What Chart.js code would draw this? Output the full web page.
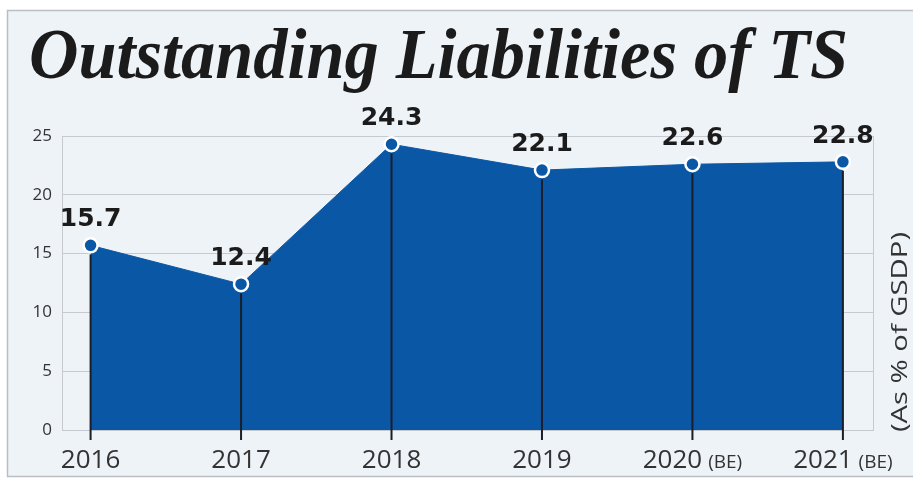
<!DOCTYPE html>
<html>
<head>
<meta charset="utf-8">
<title>Outstanding Liabilities of TS</title>
<script src="https://cdn.jsdelivr.net/npm/chart.js@4.4.1/dist/chart.umd.min.js"></script>
<style>
  html, body { margin: 0; padding: 0; background: #ffffff; }
  #wrap { width: 913px; height: 479px; position: relative; }
</style>
</head>
<body>
<div id="wrap"><canvas id="liabilitiesChart" width="913" height="479"></canvas></div>
<script>
// Outstanding liabilities, as % of GSDP
const years = [2016, 2017, 2018, 2019, 2020, 2021];
const yearNotes = ['', '', '', '', '(BE)', '(BE)'];
const liabilities = [15.7, 12.4, 24.3, 22.1, 22.6, 22.8];
const yTicks = [0, 5, 10, 15, 20, 25];

const chartTitle = 'Outstanding Liabilities of TS';
const axisTitle = '(As % of GSDP)';

const colors = {
    panel: '#eef3f8',
    frame: '#b9bec4',
    grid: '#c6cacf',
    area: '#0a58a5',
    drop: '#1a1e2a',
    text: '#333333',
    label: '#1b1b1b'
};

// squeeze or stretch a string horizontally so it spans a given width
function fitText(ctx, text, x, y, width) {
    const w = ctx.measureText(text).width;
    ctx.save();
    ctx.translate(x, y);
    ctx.scale(width / w, 1);
    ctx.fillText(text, 0, 0);
    ctx.restore();
}

// Background panel, title and the rotated unit label on the right
const panelPlugin = {
    id: 'panel',
    beforeDraw(chart) {
        const ctx = chart.ctx;
        const { width, height } = chart;
        ctx.save();
        ctx.fillStyle = '#ffffff';
        ctx.fillRect(0, 0, width, height);
        ctx.fillStyle = colors.panel;
        ctx.fillRect(7, 10, width, height - 12);
        ctx.strokeStyle = colors.frame;
        ctx.lineWidth = 1.5;
        ctx.beginPath();
        ctx.moveTo(width + 2, 10.5);
        ctx.lineTo(7.5, 10.5);
        ctx.lineTo(7.5, height - 2.5);
        ctx.lineTo(width + 2, height - 2.5);
        ctx.stroke();

        // condensed serif headline
        ctx.font = 'italic bold 72px "Liberation Serif", serif';
        ctx.fillStyle = colors.label;
        ctx.textBaseline = 'alphabetic';
        ctx.textAlign = 'left';
        fitText(ctx, chartTitle, 29, 78, 819);

        ctx.translate(901, 432);
        ctx.rotate(-Math.PI / 2);
        ctx.font = '21px "Open Sans", sans-serif';
        ctx.fillStyle = colors.text;
        ctx.textBaseline = 'middle';
        fitText(ctx, axisTitle, 0, 0, 200);
        ctx.restore();
    },
    beforeDatasetsDraw(chart) {
        const { ctx, chartArea } = chart;
        ctx.save();
        ctx.strokeStyle = colors.grid;
        ctx.lineWidth = 1;
        ctx.strokeRect(chartArea.left + 0.5, chartArea.top + 0.5,
            chartArea.right - chartArea.left, chartArea.bottom - chartArea.top);
        ctx.restore();
    }
};

// Drop lines under each point, value labels above and year labels below
const markersPlugin = {
    id: 'markers',
    afterDatasetsDraw(chart) {
        const ctx = chart.ctx;
        const meta = chart.getDatasetMeta(0);
        const xScale = chart.scales.x;
        const base = chart.scales.y.getPixelForValue(0);
        ctx.save();
        meta.data.forEach((pt, i) => {
            ctx.strokeStyle = colors.drop;
            ctx.lineWidth = 2;
            ctx.beginPath();
            ctx.moveTo(pt.x, pt.y + 9);
            ctx.lineTo(pt.x, base + 10);
            ctx.stroke();

            ctx.font = 'bold 25px "DejaVu Sans", sans-serif';
            ctx.fillStyle = colors.label;
            ctx.textAlign = 'center';
            ctx.textBaseline = 'alphabetic';
            ctx.fillText(liabilities[i].toFixed(1), pt.x, pt.y - 19);
        });

        years.forEach((yr, i) => {
            const x = xScale.getPixelForValue(yr);
            const main = String(yr);
            const note = yearNotes[i];
            ctx.font = '26px "Open Sans", sans-serif';
            const mw = ctx.measureText(main).width;
            ctx.font = '19px "Open Sans", sans-serif';
            const nw = note ? ctx.measureText(note).width + 6 : 0;
            const left = x - (mw + nw) / 2;
            ctx.fillStyle = colors.text;
            ctx.textAlign = 'left';
            ctx.textBaseline = 'alphabetic';
            ctx.font = '26px "Open Sans", sans-serif';
            ctx.fillText(main, left, 468);
            if (note) {
                ctx.font = '19px "Open Sans", sans-serif';
                ctx.fillText(note, left + mw + 6, 468);
            }
        });
        ctx.restore();
    }
};

const ctx = document.getElementById('liabilitiesChart');
new Chart(ctx, {
    type: 'line',
    data: {
        datasets: [{
            data: years.map((yr, i) => ({ x: yr, y: liabilities[i] })),
            fill: 'origin',
            backgroundColor: colors.area,
            borderColor: colors.area,
            borderWidth: 1,
            tension: 0,
            pointRadius: 7,
            pointHoverRadius: 7,
            pointBackgroundColor: colors.area,
            pointBorderColor: '#ffffff',
            pointBorderWidth: 2.5,
            clip: false
        }]
    },
    options: {
        responsive: false,
        animation: false,
        events: [],
        layout: {
            padding: { top: 136, right: 40, bottom: 49, left: 0 }
        },
        scales: {
            x: {
                type: 'linear',
                display: false,
                min: 2015.81,
                max: 2021.2
            },
            y: {
                min: 0,
                max: 25,
                afterFit(scale) { scale.width = 62; },
                afterBuildTicks(scale) {
                    scale.ticks = yTicks.map(v => ({ value: v }));
                },
                grid: {
                    color: colors.grid,
                    drawTicks: false
                },
                border: { display: false },
                ticks: {
                    padding: 10,
                    color: colors.text,
                    font: { family: '"Open Sans", sans-serif', size: 17 }
                }
            }
        },
        plugins: {
            legend: { display: false },
            tooltip: { enabled: false },
            title: { display: false }
        }
    },
    plugins: [panelPlugin, markersPlugin]
});
</script>
</body>
</html>
